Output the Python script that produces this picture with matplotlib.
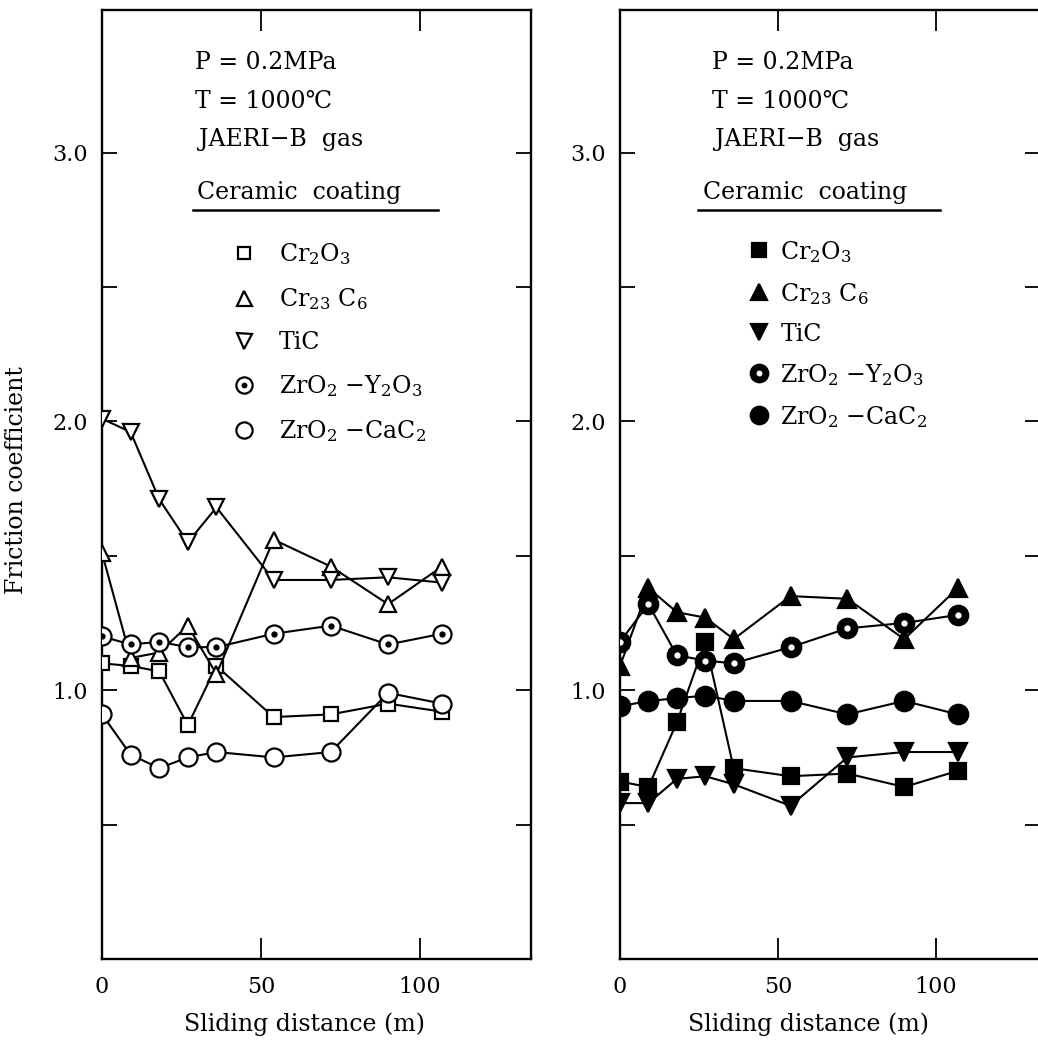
import matplotlib
matplotlib.use("Agg")
import matplotlib.pyplot as plt
from matplotlib.lines import Line2D

plt.rcParams['font.family'] = ['DejaVu Serif', 'DejaVu Sans']
plt.rcParams['mathtext.fontset'] = 'dejavuserif'

# sliding distance (m) of each measurement
distance = [0, 9, 18, 27, 36, 54, 72, 90, 107]

coatings = ['Cr$_2$O$_3$', 'Cr$_{23}$ C$_6$', 'TiC',
            'ZrO$_2$ −Y$_2$O$_3$', 'ZrO$_2$ −CaC$_2$']

# left panel: open symbols
left_cr2o3 = [1.10, 1.09, 1.07, 0.87, 1.09, 0.90, 0.91, 0.95, 0.92]
left_cr23c6 = [1.51, 1.12, 1.14, 1.24, 1.06, 1.56, 1.46, 1.32, 1.46]
left_tic = [2.01, 1.96, 1.71, 1.55, 1.68, 1.41, 1.41, 1.42, 1.40]
left_zry = [1.20, 1.17, 1.18, 1.16, 1.16, 1.21, 1.24, 1.17, 1.21]
left_zrca = [0.91, 0.76, 0.71, 0.75, 0.77, 0.75, 0.77, 0.99, 0.95]

# right panel: filled symbols
right_cr2o3 = [0.66, 0.64, 0.88, 1.18, 0.71, 0.68, 0.69, 0.64, 0.70]
right_cr23c6 = [1.09, 1.38, 1.29, 1.27, 1.19, 1.35, 1.34, 1.19, 1.38]
right_tic = [0.58, 0.58, 0.67, 0.68, 0.65, 0.57, 0.75, 0.77, 0.77]
right_zry = [1.18, 1.32, 1.13, 1.11, 1.10, 1.16, 1.23, 1.25, 1.28]
right_zrca = [0.94, 0.96, 0.97, 0.98, 0.96, 0.96, 0.91, 0.96, 0.91]

yticks = [0.5, 1.0, 1.5, 2.0, 2.5, 3.0]
ytick_labels = ['', '1.0', '', '2.0', '', '3.0']
xticks = [0, 50, 100]
xtick_labels = ['0', '50', '100']

condition_lines = ['P = 0.2MPa', 'T = 1000℃', 'JAERI−B  gas']


def marker_styles(filled):
    # (marker, size, face colour) for each coating, plus centre dot colour
    face = 'black' if filled else 'white'
    if filled:
        return [('s', 11, face), ('^', 13, face), ('v', 13, face),
                ('o', 14, face), ('o', 14, face)], 'white'
    return [('s', 10, face), ('^', 12, face), ('v', 12, face),
            ('o', 13, face), ('o', 13, face)], 'black'


def draw_panel(ax, series, filled, xmax, text_x, legend_anchor, textpad, spacing):
    styles, dot_colour = marker_styles(filled)
    handles = []
    for i, (vals, (mk, ms, fc)) in enumerate(zip(series, styles)):
        ax.plot(distance, vals, color='black', lw=1.5, marker=mk, ms=ms,
                mfc=fc, mec='black', mew=1.6, zorder=3)
        h = Line2D([], [], ls='none', marker=mk, ms=ms * 0.9, mfc=fc,
                   mec='black', mew=1.6)
        if i == 3:
            # ZrO2-Y2O3 has a dot in the middle of the circle
            ax.plot(distance, vals, ls='none', marker='o', ms=3.5,
                    mfc=dot_colour, mec=dot_colour, zorder=4)
            d = Line2D([], [], ls='none', marker='o', ms=3.2,
                       mfc=dot_colour, mec=dot_colour)
            handles.append((h, d))
        else:
            handles.append(h)

    ax.set_xlim(0, xmax)
    ax.set_ylim(0, 3.53)
    ax.set_xticks(xticks)
    ax.set_xticklabels(xtick_labels)
    ax.set_yticks(yticks)
    ax.set_yticklabels(ytick_labels)
    ax.tick_params(direction='in', length=11, width=1.3, top=True,
                   right=True, labelsize=16, pad=10)
    ax.tick_params(axis='x', length=15, pad=12)
    for sp in ax.spines.values():
        sp.set_linewidth(1.7)

    # test conditions and legend heading
    for k, (line, fy) in enumerate(zip(condition_lines, [0.945, 0.904, 0.864])):
        ax.text(text_x[0] + (0.008 if k == 2 else 0), fy, line,
                transform=ax.transAxes, fontsize=17, va='center', ha='left')
    ax.text(text_x[1], 0.808, 'Ceramic  coating', transform=ax.transAxes,
            fontsize=17, va='center', ha='left')
    ax.plot([text_x[2], text_x[3]], [0.789, 0.789], transform=ax.transAxes,
            color='black', lw=1.8)

    ax.legend(handles, coatings, loc='upper left', bbox_to_anchor=legend_anchor,
              frameon=False, fontsize=17, handlelength=1.0,
              handletextpad=textpad, borderpad=0, borderaxespad=0,
              labelspacing=spacing)

    ax.set_xlabel('Sliding distance (m)', fontsize=17)


fig = plt.figure(figsize=(10.38, 10.43), dpi=100)
ax1 = fig.add_axes([0.0983, 0.0805, 0.4133, 0.9099])
ax2 = fig.add_axes([0.5973, 0.0805, 0.4046, 0.9099])

draw_panel(ax1, [left_cr2o3, left_cr23c6, left_tic, left_zry, left_zrca],
           False, 135, (0.217, 0.221, 0.212, 0.783), (0.303, 0.756), 1.0, 0.8)
draw_panel(ax2, [right_cr2o3, right_cr23c6, right_tic, right_zry, right_zrca],
           True, 133, (0.219, 0.198, 0.186, 0.762), (0.303, 0.759), 0.4, 0.68)

ax1.set_ylabel('Friction coefficient', fontsize=17)
ax1.yaxis.set_label_coords(-0.172, 0.505)
ax1.xaxis.set_label_coords(0.473, -0.056)
ax2.xaxis.set_label_coords(0.448, -0.056)

fig.savefig('out.png', dpi=100, facecolor='white')
